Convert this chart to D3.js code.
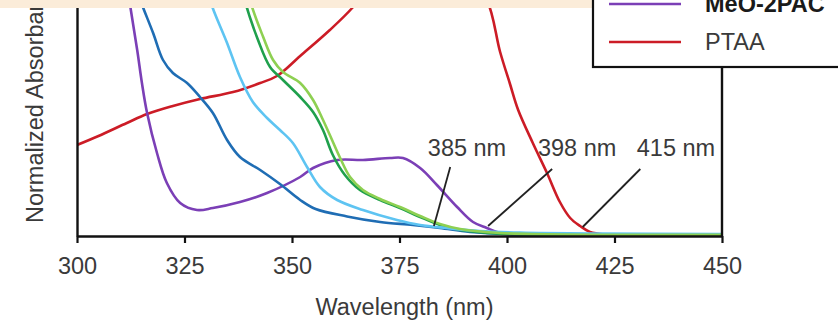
<!DOCTYPE html>
<html>
<head>
<meta charset="utf-8">
<script src="https://cdn.jsdelivr.net/npm/d3@7"></script>
<style>
  body { margin: 0; background: #fff; }
  svg { display: block; font-family: "Liberation Sans", Arial, sans-serif; }
</style>
</head>
<body>
<div id="chart-area"></div>
<script>
// Data (wavelength nm, normalized absorbance)
var wavelengthTicks = [300, 325, 350, 375, 400, 425, 450];

var ptaa = [[300,0.455],[305,0.50],[311.6,0.565],[316.3,0.61],[322.3,0.65],[328.6,0.685],[336.3,0.72],
  [342.6,0.765],[346.5,0.80],[351.9,0.90],[358.8,1.03],[364,1.14],[370,1.3],[380,1.42],[390,1.32],
  [395.3,1.18],[398.4,0.92],[400.7,0.76],[402.6,0.63],[406,0.465],[409.3,0.315],[412.3,0.17],
  [414.7,0.09],[417,0.05],[419.3,0.02],[423,0.007],[430,0.005],[450,0.004]];

var meo2pac = [[308,1.6],[310,1.45],[312.3,1.16],[314,0.93],[315.1,0.765],[316.3,0.615],[318.6,0.415],
  [320.9,0.265],[324,0.165],[327.9,0.13],[331.6,0.14],[337.9,0.17],[344.2,0.215],[351.9,0.295],
  [354.9,0.34],[360.5,0.38],[366.5,0.38],[372.8,0.39],[375.8,0.39],[379.8,0.34],[383.7,0.255],
  [388.4,0.145],[392.1,0.07],[395.3,0.04],[398.4,0.015],[403,0.004],[420,0],[450,-0.003]];

var darkBlue = [[308,1.6],[312,1.35],[314.7,1.18],[317.7,1.015],[320,0.88],[322.3,0.815],[325.6,0.765],
  [328.6,0.695],[331.6,0.615],[334.9,0.48],[337.9,0.395],[342.6,0.33],[347.2,0.26],[351.9,0.18],
  [355.5,0.135],[362.8,0.098],[370.5,0.07],[378.1,0.055],[384.4,0.04],[391.4,0.02],[403,0.008],[450,0.003]];

var lightBlue = [[326,1.6],[329,1.35],[330.9,1.18],[334.9,0.965],[337.9,0.795],[340.9,0.67],[344.2,0.59],
  [347.2,0.53],[350.2,0.465],[353.5,0.345],[356.5,0.245],[360.5,0.18],[366.5,0.13],[374.4,0.08],
  [379.8,0.055],[386,0.04],[393.7,0.025],[403,0.017],[421.6,0.012],[450,0.01]];

var darkGreen = [[336,1.5],[339,1.18],[342.1,0.98],[344.9,0.845],[347.9,0.78],[351.9,0.695],[354.9,0.62],
  [357.2,0.53],[359.5,0.405],[362.3,0.305],[365.8,0.23],[370.5,0.18],[375.1,0.14],[379.8,0.095],
  [384.4,0.055],[389.1,0.03],[398.4,0.012],[450,0.004]];

var lightGreen = [[337,1.5],[340.2,1.18],[343.3,0.995],[345.6,0.88],[347.9,0.82],[351.9,0.765],[354.9,0.68],
  [357,0.59],[358.8,0.505],[361.2,0.39],[363.5,0.295],[366.5,0.23],[370.5,0.185],[375.1,0.145],
  [379.8,0.1],[384.4,0.06],[389.1,0.035],[398.4,0.015],[450,0.006]];

var legendNames = ['MeO-2PAC', 'PTAA'];

// onset annotations: label, line end (wl, abs), line start (wl, abs), label centre wl
var onsetLabels = ['385 nm', '398 nm', '415 nm'];
var onsetEnd = [[383, 0.05], [395.6, 0.05], [417.6, 0.045]];
var onsetStart = [[386.8, 0.345], [410.5, 0.335], [431, 0.335]];
var onsetTextX = [390.7, 416.3, 439.3];

//Margin (plot top lies above the visible crop)
var margin = {left:77, right:116, top:-24, bottom:88};
var width = 838 - margin.left - margin.right,
    height = 324 - margin.top - margin.bottom;

var svg = d3.select('#chart-area')
  .append('svg')
    .attr('width', 838)
    .attr('height', 324);

var g = svg.append('g')
    .attr('transform', 'translate(' + margin.left + ',' + margin.top + ')');

//Scales
var x = d3.scaleLinear().domain([300, 450]).range([0, width]);
var y = d3.scaleLinear().domain([0, 1.3]).range([height, 0]);

g.append('clipPath').attr('id', 'plot-clip')
  .append('rect').attr('width', width).attr('height', height);

var line = d3.line()
    .x(function(d){ return x(d[0]); })
    .y(function(d){ return y(d[1]); })
    .curve(d3.curveCatmullRom.alpha(0.5));

var series = [
  {data: ptaa, color: '#cc1c26'},
  {data: meo2pac, color: '#7b3fb6'},
  {data: darkBlue, color: '#1f6db4'},
  {data: darkGreen, color: '#1fa04c'},
  {data: lightBlue, color: '#5ec4f2'},
  {data: lightGreen, color: '#8ed052'}
];

g.append('g').attr('clip-path', 'url(#plot-clip)')
  .selectAll('path')
  .data(series)
  .enter().append('path')
    .attr('d', function(d){ return line(d.data); })
    .attr('fill', 'none')
    .attr('stroke', function(d){ return d.color; })
    .attr('stroke-width', 2.6);

//Frame (right side)
g.append('line')
    .attr('x1', width).attr('x2', width)
    .attr('y1', 0).attr('y2', height)
    .attr('stroke', '#111').attr('stroke-width', 2.4);

//X Axis
var xAxisCall = d3.axisBottom(x)
    .tickValues(wavelengthTicks)
    .tickSize(7)
    .tickSizeOuter(0)
    .tickPadding(14);
var xAxis = g.append('g')
    .attr('class', 'x axis')
    .attr('transform', 'translate(0,' + height + ')')
    .call(xAxisCall);
xAxis.selectAll('text').attr('font-size', '23.5px').attr('fill', '#3a3a3a').attr('font-family', null);
xAxis.selectAll('line').attr('stroke', '#111').attr('stroke-width', 2.2);
xAxis.select('.domain').attr('stroke', '#111').attr('stroke-width', 2.4);

//Y Axis (no ticks)
var yAxis = g.append('g')
    .attr('class', 'y axis')
    .call(d3.axisLeft(y).tickValues([]).tickSizeOuter(0));
yAxis.select('.domain').attr('stroke', '#111').attr('stroke-width', 2.4);

//X Label
g.append('text')
    .attr('x', width/2 + 5)
    .attr('y', height + 79)
    .attr('font-size', '23.5px')
    .attr('fill', '#3a3a3a')
    .attr('text-anchor', 'middle')
    .text('Wavelength (nm)');

//Y Label
svg.append('text')
    .attr('transform', 'translate(43,223) rotate(-90)')
    .attr('font-size', '23.5px')
    .attr('fill', '#3a3a3a')
    .attr('text-anchor', 'start')
    .text('Normalized Absorbance');

//Onset annotations
var ann = g.append('g').attr('class', 'annotations');
onsetLabels.forEach(function(lbl, i){
  ann.append('line')
      .attr('x1', x(onsetStart[i][0])).attr('y1', y(onsetStart[i][1]))
      .attr('x2', x(onsetEnd[i][0])).attr('y2', y(onsetEnd[i][1]))
      .attr('stroke', '#222').attr('stroke-width', 1.8);
  ann.append('text')
      .attr('x', x(onsetTextX[i]))
      .attr('y', y(0.4))
      .attr('font-size', '23.5px')
      .attr('fill', '#3a3a3a')
      .attr('text-anchor', 'middle')
      .text(lbl);
});

//Highlight band across the top
svg.append('rect')
    .attr('x', 0).attr('y', 0)
    .attr('width', 595).attr('height', 8)
    .attr('fill', '#fbecd9');

//Legend
var legend = svg.append('g').attr('class', 'legend');
legend.append('rect')
    .attr('x', 593).attr('y', -120)
    .attr('width', 300).attr('height', 187)
    .attr('fill', '#fff')
    .attr('stroke', '#111').attr('stroke-width', 2.2);

var legendColors = ['#7b3fb6', '#cc1c26'];
var legendY = [4, 42];
legendNames.forEach(function(name, i){
  legend.append('line')
      .attr('x1', 609).attr('x2', 681)
      .attr('y1', legendY[i]).attr('y2', legendY[i])
      .attr('stroke', legendColors[i]).attr('stroke-width', 2.6);
  legend.append('text')
      .attr('x', 705)
      .attr('y', legendY[i] + 7.5)
      .attr('font-size', '23.5px')
      .attr('font-weight', i === 0 ? 'bold' : 'normal')
      .attr('fill', i === 0 ? '#1a1a1a' : '#3a3a3a')
      .text(name);
});
</script>
</body>
</html>
